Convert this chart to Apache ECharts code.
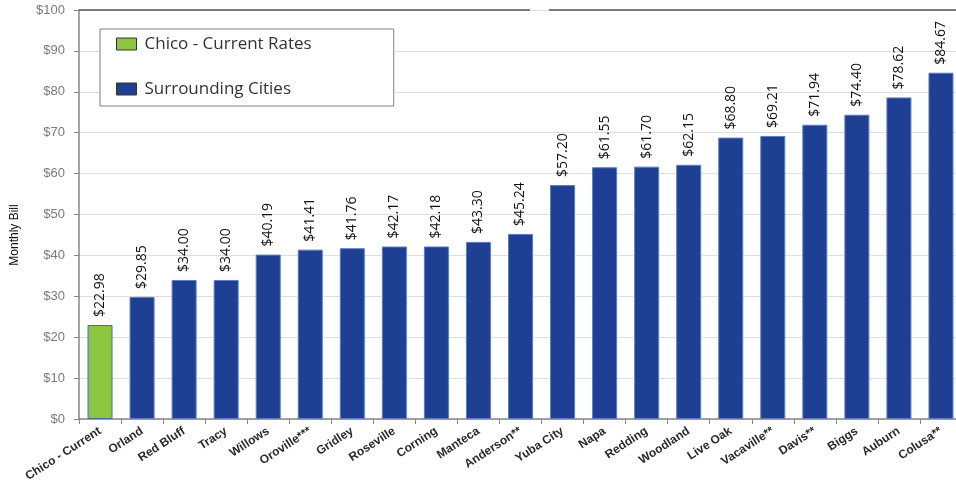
<!DOCTYPE html>
<html>
<head>
<meta charset="utf-8">
<script src="https://cdn.jsdelivr.net/npm/echarts@6/dist/echarts.min.js"></script>
<style>html,body{margin:0;padding:0;background:#fff;}#c{width:956px;height:486px;}</style>
</head>
<body>
<div id="c"></div>
<script>
var categories = ["Chico - Current","Orland","Red Bluff","Tracy","Willows","Oroville***","Gridley","Roseville","Corning","Manteca","Anderson**","Yuba City","Napa","Redding","Woodland","Live Oak","Vacaville**","Davis**","Biggs","Auburn","Colusa**"];
var chicoRates = [22.98];
var surroundingCities = [29.85,34.00,34.00,40.19,41.41,41.76,42.17,42.18,43.30,45.24,57.20,61.55,61.70,62.15,68.80,69.21,71.94,74.40,78.62,84.67];
var yTicks = {min:0, max:100, interval:10};

var chicoData = categories.map(function(c,i){ return i < chicoRates.length ? chicoRates[i] : null; });
var surrData = categories.map(function(c,i){ return i >= chicoRates.length ? surroundingCities[i - chicoRates.length] : null; });

var chart = echarts.init(document.getElementById('c'));
var lbl = {
  show:true, position:'top', rotate:90, distance:8, align:'left', verticalAlign:'middle',
  fontFamily:'Open Sans', fontSize:14, color:'#111',
  formatter:function(p){ return '$' + p.value.toFixed(2); }
};
chart.setOption({
  animation:false,
  grid:{left:79, top:10, width:883, bottom:67, containLabel:false, outerBoundsMode:'none'},
  legend:{
    orient:'vertical', left:100, top:29,
    backgroundColor:'#fff', borderColor:'#7f7f7f', borderWidth:1,
    padding:[5,82,7,16], itemGap:25, itemWidth:20, itemHeight:12,
    textStyle:{fontFamily:'Open Sans', fontSize:17, color:'#333', lineHeight:20, padding:[0,0,0,3]},
    data:[
      {name:'Chico - Current Rates', icon:'rect', itemStyle:{borderColor:'#333', borderWidth:1}},
      {name:'Surrounding Cities', icon:'rect', itemStyle:{borderColor:'#333', borderWidth:1}}
    ]
  },
  xAxis:{
    type:'category', data:categories,
    axisLine:{lineStyle:{color:'#868686', width:1.5}},
    axisTick:{show:true, length:5, lineStyle:{color:'#868686'}},
    axisLabel:{interval:0, rotate:33, fontFamily:'Liberation Sans', fontWeight:'bold', fontSize:12, color:'#2a2a2a', margin:11}
  },
  yAxis:{
    type:'value', min:yTicks.min, max:yTicks.max, interval:yTicks.interval,
    axisLine:{show:true, lineStyle:{color:'#868686', width:1.5}},
    axisTick:{show:true, length:5, lineStyle:{color:'#868686'}},
    splitLine:{lineStyle:{color:'#dedede'}},
    axisLabel:{fontFamily:'Liberation Sans', fontSize:13, color:'#7a7a7a', margin:14,
      formatter:function(v){ return '$' + v; }}
  },
  series:[
    {name:'Chico - Current Rates', type:'bar', data:chicoData, barWidth:25, barGap:'-100%',
     itemStyle:{color:'#8cc63f', borderColor:'#4a6aa8', borderWidth:1}, label:lbl},
    {name:'Surrounding Cities', type:'bar', data:surrData, barWidth:25,
     itemStyle:{color:'#1f3f93', borderColor:'#5b7cc4', borderWidth:1}, label:lbl}
  ],
  graphic:[
    {type:'line', shape:{x1:79, y1:10, x2:530, y2:10}, style:{stroke:'#555', lineWidth:1.5}, z:100},
    {type:'line', shape:{x1:549, y1:10, x2:956, y2:10}, style:{stroke:'#555', lineWidth:1.5}, z:100},
    {type:'text', x:15, y:235, rotation:Math.PI/2, style:{text:'Monthly Bill', font:'12px Liberation Sans', fill:'#111', textAlign:'center', textVerticalAlign:'middle'}}
  ]
});
</script>
</body>
</html>
